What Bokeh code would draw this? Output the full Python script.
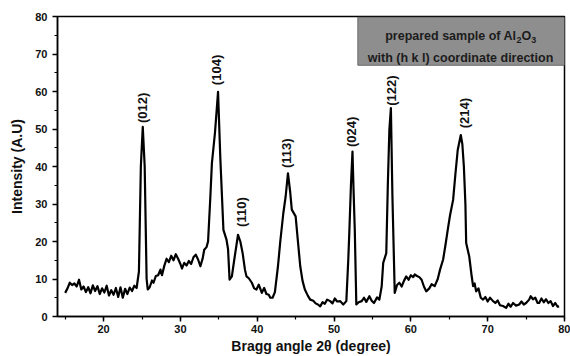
import math
from bokeh.plotting import figure
from bokeh.models import Range1d, SingleIntervalTicker, ColumnDataSource, Label
from bokeh.core.properties import value
from bokeh.embed import file_html
from bokeh.resources import INLINE

two_theta = [15.0, 15.3, 15.6, 15.9, 16.2, 16.5, 16.8, 17.1, 17.4, 17.7, 18.0, 18.3, 18.6, 18.9, 19.2, 19.5, 19.8,
             20.1, 20.4, 20.7, 21.0, 21.3, 21.6, 21.9, 22.2, 22.5, 22.8, 23.1, 23.4, 23.7, 24.0, 24.3, 24.6, 24.85,
             25.1, 25.35, 25.6, 25.75, 26.0, 26.3, 26.5, 26.8, 27.1, 27.4, 27.6, 27.9, 28.2, 28.5, 28.8, 29.1, 29.4,
             29.7, 30.0, 30.2, 30.5, 30.8, 31.1, 31.4, 31.7, 32.0, 32.3, 32.6, 32.9, 33.1, 33.4, 33.6, 33.9, 34.1,
             34.5, 34.9, 35.2, 35.6, 36.0, 36.2, 36.4, 36.7, 37.0, 37.5, 37.8, 38.1, 38.4, 38.6, 38.9, 39.3, 39.6,
             39.9, 40.2, 40.6, 40.9, 41.2, 41.5, 41.7, 42.0, 42.3, 42.7, 43.0, 43.4, 43.7, 44.0, 44.3, 44.5, 45.0,
             45.3, 45.6, 45.9, 46.2, 46.6, 46.9, 47.3, 47.6, 47.9, 48.2, 48.5, 48.8, 49.1, 49.5, 49.8, 50.1, 50.4,
             50.8, 51.2, 51.6, 51.85, 52.0, 52.2, 52.4, 52.55, 52.7, 52.9, 53.2, 53.6, 53.9, 54.2, 54.6, 54.9, 55.2,
             55.6, 55.9, 56.2, 56.4, 56.8, 57.0, 57.2, 57.4, 57.6, 57.9, 58.2, 58.5, 58.8, 59.1, 59.4, 59.7, 60.0,
             60.3, 60.5, 60.8, 61.1, 61.4, 61.7, 62.0, 62.4, 62.7, 63.1, 63.5, 63.8, 64.2, 64.5, 64.8, 65.1, 65.5,
             65.8, 66.1, 66.5, 66.7, 66.9, 67.1, 67.2, 67.6, 67.9, 68.1, 68.3, 68.5, 68.8, 69.1, 69.4, 69.7, 70.0,
             70.3, 70.7, 71.0, 71.3, 71.6, 72.0, 72.4, 72.7, 73.0, 73.3, 73.7, 74.1, 74.4, 74.7, 75.0, 75.4, 75.6,
             75.9, 76.2, 76.5, 76.7, 77.0, 77.3, 77.6, 77.9, 78.2, 78.5, 78.8, 79.1, 79.3]
intensity = [6.3, 7.5, 9.0, 8.4, 8.8, 8.0, 9.8, 7.2, 8.0, 6.5, 7.8, 6.2, 8.3, 6.8, 8.1, 6.0, 7.5,
             6.4, 8.2, 5.6, 7.0, 5.8, 7.6, 5.2, 7.8, 5.0, 7.4, 6.0, 7.7, 6.8, 8.2, 7.6, 12.0, 40.0,
             50.6, 40.0, 10.0, 7.2, 7.8, 9.6, 9.0, 10.8, 11.0, 12.5, 11.0, 13.5, 15.4, 14.5, 16.2, 15.0, 16.6,
             15.4, 14.0, 12.8, 14.3, 13.6, 14.8, 14.0, 15.8, 16.5, 15.2, 13.4, 15.5, 17.8, 18.5, 20.0, 32.0, 40.9,
             49.0, 59.9, 42.0, 23.1, 20.5, 18.0, 9.8, 10.7, 15.0, 21.8, 20.0, 16.9, 12.5, 10.7, 10.2, 9.0, 7.5,
             7.2, 8.5, 6.3, 7.6, 6.0, 5.8, 5.0, 5.0, 6.5, 13.4, 20.0, 27.6, 32.0, 38.2, 33.0, 28.5, 26.7,
             20.0, 13.4, 9.5, 7.2, 5.5, 4.5, 4.2, 3.5, 3.2, 2.7, 3.8, 3.4, 4.5, 4.1, 3.5, 4.8, 4.0,
             4.1, 3.2, 4.1, 15.0, 23.1, 35.0, 44.0, 33.0, 23.1, 3.2, 3.8, 4.1, 5.0, 3.9, 5.4, 4.2, 3.6,
             5.1, 4.5, 8.0, 14.3, 16.9, 35.0, 49.7, 55.6, 32.0, 6.3, 8.4, 9.0, 8.0, 9.5, 10.7, 9.8, 11.0,
             10.5, 11.2, 10.8, 10.5, 9.8, 8.0, 6.7, 7.5, 8.6, 8.1, 10.0, 12.5, 15.2, 19.0, 23.1, 27.0, 31.1,
             38.0, 44.4, 48.4, 46.0, 40.0, 30.0, 19.6, 16.0, 11.0, 8.1, 8.8, 6.7, 7.5, 5.0, 4.5, 5.2, 4.0,
             5.0, 4.1, 3.6, 4.3, 3.0, 2.8, 2.3, 3.4, 2.6, 3.6, 2.9, 3.2, 4.0, 3.2, 3.6, 4.5, 5.4,
             4.6, 5.0, 3.6, 3.6, 4.8, 3.8, 4.6, 3.6, 4.1, 2.8, 3.6, 2.6, 2.7]

peak_labels = ["(012)", "(104)", "(110)", "(113)", "(024)", "(122)", "(214)"]
peak_label_x = [25.13, 34.74, 37.99, 43.83, 52.27, 57.47, 66.99]
peak_label_y = [51.6, 61.7, 23.9, 39.6, 45.2, 56.2, 50.2]

x_title = "Bragg angle 2θ (degree)"
y_title = "Intensity (A.U)"
legend_line1 = ["prepared sample of Al", "2", "O", "3"]
legend_line2 = "with (h k l) coordinate direction"

FONT = "Liberation Sans"

p = figure(width=570, height=356, x_range=Range1d(14, 80), y_range=Range1d(0, 80),
           output_backend="svg", toolbar_location=None,
           min_border_left=57, min_border_right=6, min_border_top=16, min_border_bottom=39)
p.grid.visible = False
p.background_fill_color = "white"
p.border_fill_color = "white"
p.outline_line_color = "black"
p.outline_line_width = 1.5

p.xaxis.ticker = SingleIntervalTicker(interval=10, num_minor_ticks=2)
p.yaxis.ticker = SingleIntervalTicker(interval=10, num_minor_ticks=2)
for ax in (p.xaxis[0], p.yaxis[0]):
    ax.axis_line_width = 1.5
    ax.axis_line_color = "black"
    ax.major_tick_line_width = 1.5
    ax.minor_tick_line_width = 1.2
    ax.major_tick_out = 5
    ax.major_tick_in = 0
    ax.minor_tick_out = 3
    ax.minor_tick_in = 0
    ax.major_label_text_font = FONT
    ax.major_label_text_font_style = "bold"
    ax.major_label_text_font_size = "11px"
    ax.major_label_text_color = "#111111"
    ax.axis_label_text_font = FONT
    ax.axis_label_text_font_style = "bold"
    ax.axis_label_text_font_size = "14px"
    ax.axis_label_text_color = "#111111"
p.xaxis.axis_label = x_title
p.yaxis.axis_label = y_title
p.xaxis.major_label_standoff = 3
p.yaxis.major_label_standoff = 5
p.xaxis.axis_label_standoff = 2
p.yaxis.axis_label_standoff = 7

src = ColumnDataSource(dict(x=two_theta, y=intensity))
p.line("x", "y", source=src, line_color="black", line_width=2.2, line_join="round")

lab = ColumnDataSource(dict(x=peak_label_x, y=peak_label_y, t=peak_labels))
p.text("x", "y", text="t", source=lab, angle=math.pi / 2, text_align="left",
       text_baseline="middle", text_font=value(FONT), text_font_style="bold",
       text_font_size="13px", text_color="#111111")

# legend box
p.quad(left=[53.1], right=[80.0], bottom=[67.0], top=[79.8],
       fill_color="#8e8e8e", line_color="#6a6a6a", line_width=1)

start_x = 56.66
offsets = [0, 131.3, 136.3, 146.0]
sizes = ["12.5px", "9px", "12.5px", "9px"]
ys = [74.7, 73.7, 74.7, 73.7]
for t, off, sz, yy in zip(legend_line1, offsets, sizes, ys):
    p.add_layout(Label(x=start_x, y=yy, x_offset=off, text=t, text_align="left",
                       text_baseline="alphabetic", text_font=FONT, text_font_style="bold",
                       text_font_size=sz, text_color="#1c1c1c"))
p.add_layout(Label(x=66.47, y=69.0, text=legend_line2, text_align="center",
                   text_baseline="alphabetic", text_font=FONT, text_font_style="bold",
                   text_font_size="12.5px", text_color="#1c1c1c"))

open("out.html", "w").write(file_html(p, INLINE))
